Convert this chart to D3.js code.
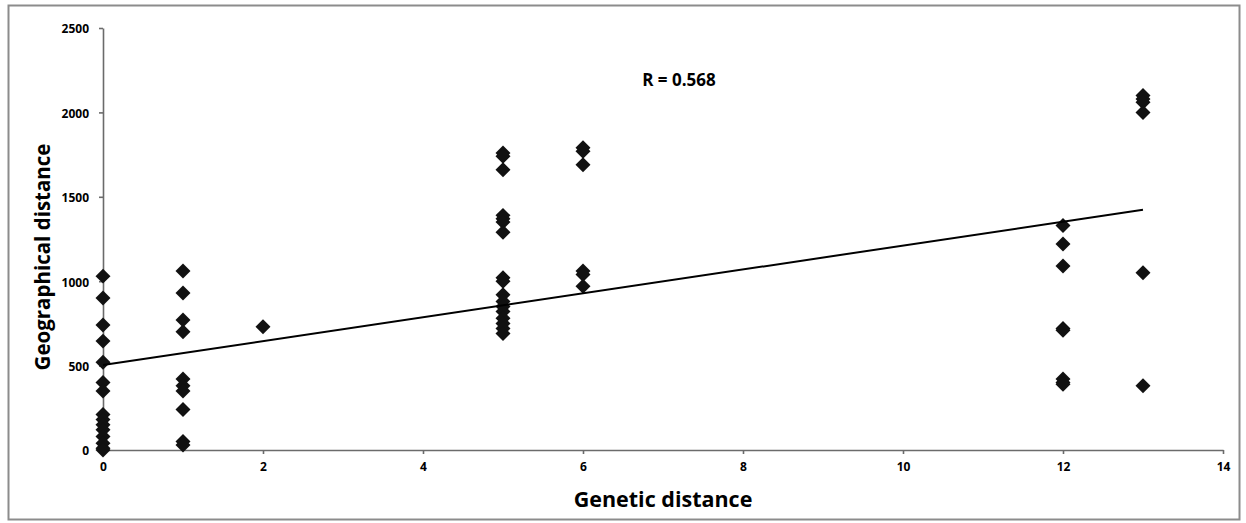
<!DOCTYPE html>
<meta charset="utf-8">
<style>
    body { margin: 0; background: #fff; }
    svg text { font-family: "Open Sans", Lato, sans-serif; font-weight: bold; fill: #000; }
</style>
<svg width="1246" height="523"></svg>
<script src="https://d3js.org/d3.v7.min.js"></script>
<script>
    // genetic distance (x) and geographical distance (y) per pair
    var geneticDist = [
        0,0,0,0,0,0,0,0,0,0,0,0,0,0,0,
        1,1,1,1,1,1,1,1,1,1,
        2,
        5,5,5,5,5,5,5,5,5,5,5,5,5,5,5,5,5,
        6,6,6,6,6,6,
        12,12,12,12,12,12,12,12,
        13,13,13,13,13,13
    ];
    var geoDist = [
        1030,900,740,645,520,400,350,210,180,150,120,80,40,10,0,
        1060,930,770,700,420,380,350,240,50,30,
        730,
        1760,1740,1660,1390,1370,1350,1290,1020,1000,920,880,850,820,780,750,720,690,
        1790,1770,1690,1060,1040,970,
        1330,1220,1090,720,710,420,400,390,
        2100,2080,2060,2000,1050,380
    ];
    var xTicks = [0, 2, 4, 6, 8, 10, 12, 14];
    var yTicks = [0, 500, 1000, 1500, 2000, 2500];
    // linear fit
    var trendX = [0, 13];
    var trendIntercept = 503, trendSlope = 70.8;
    var rLabel = "R = 0.568";

    var svg = d3.select("svg");
    var margin = {top: 28, left: 103, right: 23, bottom: 73};

    svg.append("rect")
        .attr("x", 8.5).attr("y", 5.5)
        .attr("width", 1231).attr("height", 514)
        .attr("fill", "none").attr("stroke", "#8c8c8c").attr("stroke-width", 2);

    var x = d3.scaleLinear().domain([0, 14]).range([0, 1120]);
    var y = d3.scaleLinear().domain([0, 2500]).range([422, 0]);

    var g = svg.append("g")
        .attr("transform", "translate(" + margin.left + "," + margin.top + ")");

    var xAxis = g.append("g")
        .attr("transform", "translate(0," + y(0) + ")")
        .call(d3.axisBottom(x).tickValues(xTicks).tickFormat(d3.format("d"))
            .tickSize(4).tickPadding(8).tickSizeOuter(0));
    var yAxis = g.append("g")
        .call(d3.axisLeft(y).tickValues(yTicks).tickFormat(d3.format("d"))
            .tickSize(4).tickPadding(10).tickSizeOuter(0));

    [xAxis, yAxis].forEach(function(a) {
        a.select(".domain").attr("stroke", "#6b6b6b").attr("stroke-width", 1.6);
        a.selectAll(".tick line").attr("stroke", "#6b6b6b").attr("stroke-width", 1.6);
        a.selectAll(".tick text").attr("font-size", 12).attr("font-family", "'Open Sans', sans-serif")
            .attr("font-weight", "bold").attr("fill", "#000");
    });
    yAxis.selectAll(".tick text").attr("dy", "0.4em");

    // points
    var diamond = d3.symbol().type(d3.symbolSquare).size(112);
    g.selectAll("path.pt")
        .data(geneticDist.map(function(d, i) { return [d, geoDist[i]]; }))
        .enter().append("path")
        .attr("class", "pt")
        .attr("d", diamond)
        .attr("transform", function(d) { return "translate(" + x(d[0]) + "," + y(d[1]) + ") rotate(45)"; })
        .attr("fill", "#111");

    // trend line
    var line = d3.line()
        .x(function(d) { return x(d); })
        .y(function(d) { return y(trendIntercept + trendSlope * d); });
    g.append("path")
        .datum(trendX)
        .attr("d", line)
        .attr("fill", "none")
        .attr("stroke", "#000")
        .attr("stroke-width", 2);

    g.append("text")
        .attr("x", x(7.2)).attr("y", 58)
        .attr("text-anchor", "middle")
        .attr("font-size", 17)
        .text(rLabel);

    svg.append("text")
        .attr("x", margin.left + x(7)).attr("y", 507)
        .attr("text-anchor", "middle")
        .attr("font-size", 21.5)
        .text("Genetic distance");

    svg.append("text")
        .attr("transform", "translate(50,257) rotate(-90)")
        .attr("text-anchor", "middle")
        .attr("font-size", 20.5)
        .text("Geographical distance");
</script>
